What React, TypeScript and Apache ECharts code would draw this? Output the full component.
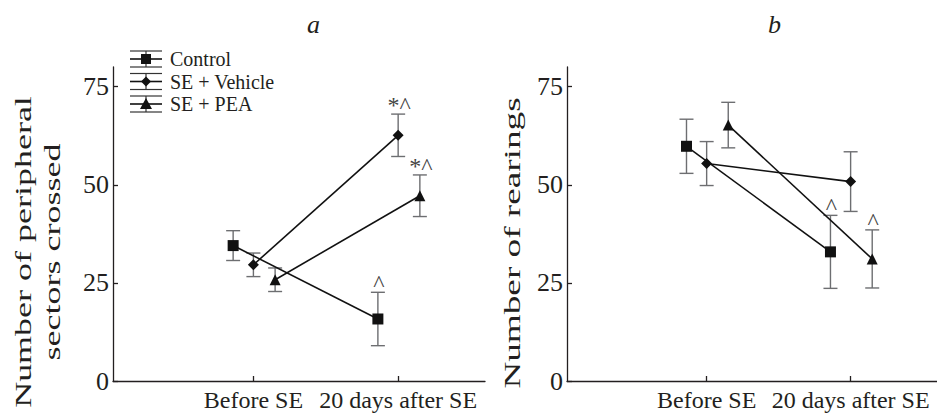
import React, { useEffect, useRef } from "react";
import * as echarts from "echarts";

// ---- data ----
const xCategories = ["Before SE", "20 days after SE"];
const seriesNames = ["Control", "SE + Vehicle", "SE + PEA"];
const seriesSymbols = ["rect", "diamond", "triangle"];

// panel a: number of peripheral sectors crossed
const aControl = [34.5, 15.8];
const aControlErr = [3.8, 6.8];
const aVehicle = [29.6, 62.6];
const aVehicleErr = [3.0, 5.4];
const aPEA = [25.8, 47.2];
const aPEAErr = [3.0, 5.3];
const aNotes = [
  ["", "^"],
  ["", "*^"],
  ["", "*^"],
];

// panel b: number of rearings
const bControl = [59.8, 32.9];
const bControlErr = [6.9, 9.3];
const bVehicle = [55.4, 50.8];
const bVehicleErr = [5.6, 7.6];
const bPEA = [65.2, 31.1];
const bPEAErr = [5.8, 7.4];
const bNotes = [
  ["", "^"],
  ["", ""],
  ["", "^"],
];

const yTicks = [0, 25, 50, 75];
const titles = ["a", "b"];
const yTitles = ["Number of peripheral\nsectors crossed", "Number of rearings"];

// ---- styling ----
const FONT = '"Liberation Serif", "Times New Roman", serif';
const TEXT = "#231f20";
const BAR = "#6d6e71";
const DODGE = [-0.14, 0, 0.15];

const panels = [
  { means: [aControl, aVehicle, aPEA], errs: [aControlErr, aVehicleErr, aPEAErr], notes: aNotes },
  { means: [bControl, bVehicle, bPEA], errs: [bControlErr, bVehicleErr, bPEAErr], notes: bNotes },
];

function buildOption() {
  const grids = [
    { left: 113, top: 67, width: 372, height: 314 },
    { left: 567, top: 67, width: 370, height: 314 },
  ];
  const xAxes = grids.map((_, i) => ({
    type: "value",
    gridIndex: i,
    min: 0.03,
    max: 2.6,
    splitLine: { show: false },
    axisLine: { show: true, lineStyle: { color: TEXT, width: 1.3 } },
    axisTick: { show: true, inside: true, length: 5, customValues: [1, 2], lineStyle: { color: TEXT, width: 1.3 } },
    axisLabel: {
      show: true,
      customValues: [1, 2],
      margin: 7,
      color: TEXT,
      fontFamily: FONT,
      fontSize: 24,
      formatter: (v: number) => xCategories[Math.round(v) - 1] ?? "",
    },
  }));
  const yAxes = grids.map((_, i) => ({
    type: "value",
    gridIndex: i,
    min: 0,
    max: 80,
    splitLine: { show: false },
    axisLine: { show: true, lineStyle: { color: TEXT, width: 1.3 } },
    axisTick: { show: true, inside: true, length: 5, customValues: yTicks, lineStyle: { color: TEXT, width: 1.3 } },
    axisLabel: {
      show: true,
      customValues: yTicks,
      margin: 4,
      color: TEXT,
      fontFamily: FONT,
      fontSize: 26,
    },
  }));

  const series: any[] = [];
  panels.forEach((panel, p) => {
    panel.means.forEach((vals, s) => {
      const errs = panel.errs[s];
      const notes = panel.notes[s];
      const errData = vals.map((v, c) => [c + 1 + DODGE[s], v - errs[c], v + errs[c]]);
      series.push({
        type: "custom",
        name: seriesNames[s] + " error",
        xAxisIndex: p,
        yAxisIndex: p,
        z: 1,
        data: errData,
        renderItem: (params: any, api: any) => {
          const x = api.value(0);
          const lo = api.value(1);
          const hi = api.value(2);
          const top = api.coord([x, hi]);
          const bot = api.coord([x, lo]);
          const w = 7;
          const st = { stroke: BAR, lineWidth: 1.4 };
          const children: any[] = [
            { type: "line", shape: { x1: top[0], y1: top[1], x2: bot[0], y2: bot[1] }, style: st },
            { type: "line", shape: { x1: top[0] - w, y1: top[1], x2: top[0] + w, y2: top[1] }, style: st },
            { type: "line", shape: { x1: bot[0] - w, y1: bot[1], x2: bot[0] + w, y2: bot[1] }, style: st },
          ];
          const note = notes[params.dataIndex];
          if (note) {
            children.push({
              type: "text",
              x: top[0] + 1,
              y: top[1] + 3,
              style: {
                text: note,
                align: "center",
                verticalAlign: "bottom",
                fill: "#444",
                font: `24px ${FONT}`,
              },
            });
          }
          return { type: "group", children };
        },
      });
      series.push({
        type: "line",
        name: seriesNames[s],
        xAxisIndex: p,
        yAxisIndex: p,
        z: 3,
        data: vals.map((v, c) => [c + 1 + DODGE[s], v]),
        symbol: seriesSymbols[s],
        symbolSize: 11,
        lineStyle: { color: "#111", width: 1.6 },
        itemStyle: { color: "#111" },
        emphasis: { disabled: true },
      });
    });
  });

  // legend drawn as error-bar glyphs
  const legendChildren: any[] = [];
  seriesNames.forEach((name, i) => {
    const cy = 59 + 22.5 * i;
    const ls = { stroke: "#333", lineWidth: 1.2 };
    legendChildren.push(
      { type: "line", shape: { x1: 130, y1: cy - 8, x2: 162, y2: cy - 8 }, style: ls },
      { type: "line", shape: { x1: 130, y1: cy, x2: 162, y2: cy }, style: { stroke: "#111", lineWidth: 1.6 } },
      { type: "line", shape: { x1: 130, y1: cy + 8, x2: 162, y2: cy + 8 }, style: ls },
      { type: "line", shape: { x1: 146, y1: cy - 8, x2: 146, y2: cy + 8 }, style: ls }
    );
    if (i === 0) {
      legendChildren.push({ type: "rect", shape: { x: 141, y: cy - 5, width: 10, height: 10 }, style: { fill: "#111" } });
    } else if (i === 1) {
      legendChildren.push({
        type: "polygon",
        shape: { points: [[146, cy - 5], [151, cy], [146, cy + 5], [141, cy]] },
        style: { fill: "#111" },
      });
    } else {
      legendChildren.push({
        type: "polygon",
        shape: { points: [[146, cy - 6], [152, cy + 5], [140, cy + 5]] },
        style: { fill: "#111" },
      });
    }
    legendChildren.push({
      type: "text",
      x: 170,
      y: cy,
      style: { text: name, fill: TEXT, font: `20px ${FONT}`, verticalAlign: "middle", align: "left" },
    });
  });

  const graphic: any[] = [
    { type: "group", children: legendChildren },
    {
      type: "text",
      x: 38,
      y: 252,
      rotation: Math.PI / 2,
      scaleX: 1.5,
      style: {
        text: yTitles[0],
        fill: TEXT,
        font: `24px ${FONT}`,
        lineHeight: 29,
        align: "center",
        verticalAlign: "middle",
      },
    },
    {
      type: "text",
      x: 512,
      y: 243,
      rotation: Math.PI / 2,
      scaleX: 1.55,
      style: {
        text: yTitles[1],
        fill: TEXT,
        font: `24px ${FONT}`,
        align: "center",
        verticalAlign: "middle",
      },
    },
  ];

  return {
    animation: false,
    backgroundColor: "#ffffff",
    title: [
      { text: titles[0], left: 302, top: 6, textStyle: { fontFamily: FONT, fontStyle: "italic", fontWeight: "normal", fontSize: 26, color: TEXT } },
      { text: titles[1], left: 763, top: 6, textStyle: { fontFamily: FONT, fontStyle: "italic", fontWeight: "normal", fontSize: 26, color: TEXT } },
    ],
    grid: grids,
    xAxis: xAxes,
    yAxis: yAxes,
    series,
    graphic,
  };
}

export default function App() {
  const ref = useRef<HTMLDivElement>(null);
  useEffect(() => {
    if (!ref.current) return;
    const chart = echarts.init(ref.current, null, { renderer: "svg" });
    chart.setOption(buildOption() as any);
    return () => chart.dispose();
  }, []);
  return (
    <div
      ref={ref}
      style={{ position: "fixed", left: 0, top: 0, width: 937, height: 416, background: "#fff" }}
    />
  );
}
